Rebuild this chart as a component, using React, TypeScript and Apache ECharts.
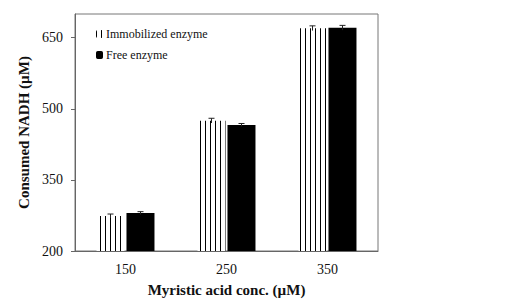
import React, { useEffect, useRef } from "react";
import * as echarts from "echarts";

const categories = ["150", "250", "350"];
const immobilized = [274, 475, 670];
const immobilizedErr = [4, 5, 5];
const free = [280, 466, 671];
const freeErr = [3, 3, 5];
const yTicks = [200, 350, 500, 650];

const FONT = "Liberation Serif";

export default function App() {
  const ref = useRef<HTMLDivElement>(null);
  useEffect(() => {
    if (!ref.current) return;
    const chart = echarts.init(ref.current, undefined, { renderer: "svg" });
    const barWidth = 28;
    const gap = 2;
    const off = (barWidth + gap) / 2;
    const errRender = (shift: number) => (params: any, api: any) => {
      const i = api.value(0);
      const v = api.value(1);
      const e = api.value(2);
      const top = api.coord([i, v + e]);
      const bot = api.coord([i, v - e]);
      const x = top[0] + shift;
      const cap = 3;
      const style = { stroke: "#222", lineWidth: 1 };
      return {
        type: "group",
        children: [
          { type: "line", shape: { x1: x, y1: top[1], x2: x, y2: bot[1] }, style },
          { type: "line", shape: { x1: x - cap, y1: top[1], x2: x + cap, y2: top[1] }, style },
        ],
      };
    };
    chart.setOption({
      animation: false,
      textStyle: { fontFamily: FONT },
      grid: {
        left: 75,
        top: 14,
        right: 147,
        bottom: 55,
        show: true,
        borderColor: "#777",
        borderWidth: 1,
      },
      legend: {
        orient: "vertical",
        left: 96,
        top: 28,
        padding: 0,
        itemWidth: 7,
        itemHeight: 8,
        itemGap: 9,
        textStyle: { fontFamily: FONT, fontSize: 12, color: "#111", padding: [0, 0, 0, -2] },
        data: ["Immobilized enzyme", "Free enzyme"],
      },
      xAxis: {
        type: "category",
        data: categories,
        axisTick: { show: false },
        axisLine: { lineStyle: { color: "#666" } },
        axisLabel: { fontFamily: FONT, fontSize: 14, color: "#111", margin: 11 },
        name: "Myristic acid conc. (µM)",
        nameLocation: "middle",
        nameGap: 31,
        nameTextStyle: { fontFamily: FONT, fontSize: 15, fontWeight: "bold", color: "#111" },
      },
      yAxis: {
        type: "value",
        min: 200,
        max: 700,
        interval: 150,
        splitLine: { show: false },
        axisLine: { show: true, lineStyle: { color: "#666" } },
        axisTick: { show: true, length: 4, lineStyle: { color: "#666" }, customValues: yTicks },
        axisLabel: { fontFamily: FONT, fontSize: 14, color: "#111", margin: 12, customValues: yTicks },
        name: "Consumed NADH (µM)",
        nameLocation: "middle",
        nameGap: 40,
        nameTextStyle: { fontFamily: FONT, fontSize: 15, fontWeight: "bold", color: "#111" },
      },
      series: [
        {
          name: "Immobilized enzyme",
          type: "bar",
          data: immobilized,
          barWidth,
          barGap: "7%",
          itemStyle: {
            color: "#fff",
            decal: {
              symbol: "rect",
              symbolSize: 1,
              color: "#000",
              backgroundColor: "#fff",
              dashArrayX: [1, 4],
              dashArrayY: [10, 0],
              rotation: 0,
            },
          },
        },
        {
          name: "Free enzyme",
          type: "bar",
          data: free,
          barWidth,
          barGap: "7%",
          itemStyle: { color: "#000" },
        },
        {
          type: "custom",
          renderItem: errRender(-off),
          data: immobilized.map((v, i) => [i, v, immobilizedErr[i]]),
          z: 10,
        },
        {
          type: "custom",
          renderItem: errRender(off),
          data: free.map((v, i) => [i, v, freeErr[i]]),
          z: 10,
        },
      ],
    });
    return () => chart.dispose();
  }, []);
  return <div ref={ref} style={{ width: 525, height: 306, position: "absolute", left: 0, top: 0 }} />;
}
